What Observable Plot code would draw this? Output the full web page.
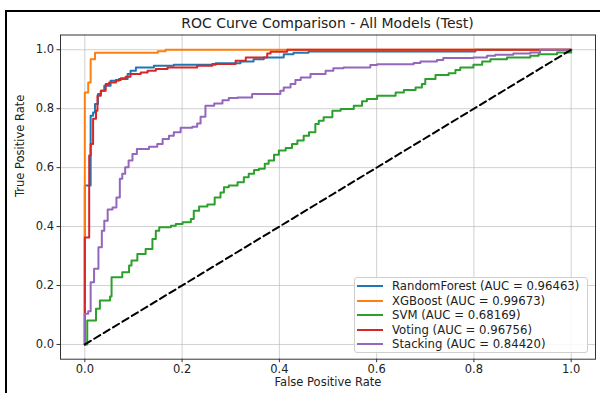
<!DOCTYPE html>
<html>
<head>
<meta charset="utf-8">
<script src="https://cdn.jsdelivr.net/npm/d3@7"></script>
<script src="https://cdn.jsdelivr.net/npm/@observablehq/plot@0.6"></script>
<style>
  html, body { margin: 0; padding: 0; background: #fff; }
  #wrap { position: relative; width: 600px; height: 393px; overflow: hidden; background: #fff; font-family: "DejaVu Sans", sans-serif; }
  #border { position: absolute; left: 5px; top: 10px; width: 600px; height: 400px; border-top: 2px solid #000; border-left: 2px solid #000; }
  #chart { position: absolute; left: 0; top: 0; }
  #title { position: absolute; left: 60px; width: 535px; top: 15px; text-align: center; font-size: 14px; line-height: 16px; color: #222; }
  #legend { position: absolute; left: 354px; top: 277px; width: 234px; height: 76px; box-sizing: border-box; background: rgba(255,255,255,0.85); border: 1px solid #cfcfcf; border-radius: 3px; }
  .row { position: absolute; left: 0; height: 0; }
  .sw { position: absolute; left: 2px; width: 26px; height: 2px; top: -1px; }
  .lt { position: absolute; left: 37px; top: -8px; font-size: 11.7px; line-height: 16px; white-space: nowrap; color: #222; }
</style>
</head>
<body>
<div id="wrap">
  <div id="chart"></div>
  <div id="border"></div>
  <div id="title"></div>
  <div id="legend"></div>
</div>
<script>
const titleText = "ROC Curve Comparison - All Models (Test)";
const xLabel = "False Positive Rate";
const yLabel = "True Positive Rate";
const ticks = [0, 0.2, 0.4, 0.6, 0.8, 1.0];

const models = ["RandomForest", "XGBoost", "SVM", "Voting", "Stacking"];
const aucs = ["0.96463", "0.99673", "0.68169", "0.96756", "0.84420"];
const colors = ["#1f77b4", "#ff7f0e", "#2ca02c", "#d62728", "#9467bd"];

const rfFpr = [0, 0, 0.012, 0.017, 0.021, 0.027, 0.033, 0.040, 0.053, 0.070, 0.088, 0.094, 0.105, 0.142, 0.183, 0.269, 0.320, 0.347, 0.368, 0.409, 0.429, 0.460, 0.803, 1];
const rfTpr = [0, 0.539, 0.776, 0.787, 0.816, 0.850, 0.861, 0.878, 0.895, 0.901, 0.918, 0.929, 0.940, 0.946, 0.949, 0.954, 0.960, 0.968, 0.974, 0.985, 0.990, 0.994, 1.0, 1];

const xgbFpr = [0, 0, 0.007, 0.012, 0.021, 0.150, 0.166, 1];
const xgbTpr = [0, 0.855, 0.889, 0.968, 0.990, 0.995, 1.0, 1];

const svmFpr = [0, 0.005, 0.023, 0.031, 0.052, 0.055, 0.077, 0.091, 0.096, 0.108, 0.125, 0.139, 0.146, 0.153, 0.177, 0.187, 0.201, 0.218, 0.224, 0.235, 0.252, 0.267, 0.279, 0.286, 0.296, 0.314, 0.327, 0.337, 0.348, 0.358, 0.370, 0.378, 0.389, 0.399, 0.413, 0.426, 0.437, 0.450, 0.461, 0.474, 0.481, 0.491, 0.509, 0.526, 0.553, 0.570, 0.580, 0.601, 0.639, 0.656, 0.680, 0.693, 0.700, 0.721, 0.748, 0.762, 0.772, 0.799, 0.817, 0.834, 0.868, 0.916, 0.933, 0.971, 1];
const svmTpr = [0, 0.081, 0.121, 0.149, 0.163, 0.228, 0.245, 0.268, 0.285, 0.307, 0.324, 0.358, 0.386, 0.398, 0.403, 0.409, 0.415, 0.426, 0.454, 0.468, 0.475, 0.499, 0.516, 0.533, 0.539, 0.550, 0.567, 0.579, 0.592, 0.596, 0.613, 0.624, 0.644, 0.658, 0.667, 0.680, 0.692, 0.708, 0.720, 0.748, 0.759, 0.771, 0.793, 0.799, 0.810, 0.825, 0.833, 0.844, 0.855, 0.863, 0.872, 0.884, 0.901, 0.914, 0.920, 0.931, 0.940, 0.949, 0.960, 0.968, 0.974, 0.980, 0.985, 0.991, 1];

const votFpr = [0, 0, 0.009, 0.012, 0.017, 0.023, 0.026, 0.033, 0.043, 0.050, 0.064, 0.074, 0.084, 0.094, 0.115, 0.129, 0.146, 0.170, 0.231, 0.262, 0.310, 0.331, 0.375, 0.382, 0.416, 1];
const votTpr = [0, 0.363, 0.641, 0.680, 0.766, 0.793, 0.844, 0.861, 0.884, 0.889, 0.897, 0.903, 0.908, 0.918, 0.923, 0.929, 0.935, 0.940, 0.946, 0.952, 0.963, 0.974, 0.987, 0.993, 1.0, 1];

const stkFpr = [0, 0, 0.007, 0.012, 0.019, 0.028, 0.035, 0.040, 0.047, 0.057, 0.065, 0.072, 0.077, 0.083, 0.090, 0.098, 0.107, 0.132, 0.149, 0.160, 0.173, 0.183, 0.197, 0.221, 0.231, 0.238, 0.248, 0.266, 0.283, 0.296, 0.314, 0.344, 0.402, 0.409, 0.423, 0.433, 0.444, 0.464, 0.495, 0.511, 0.532, 0.587, 0.601, 0.676, 0.690, 0.724, 0.737, 0.799, 0.827, 0.844, 0.881, 0.916, 0.936, 1];
const stkTpr = [0, 0.104, 0.113, 0.211, 0.257, 0.330, 0.386, 0.420, 0.458, 0.465, 0.499, 0.562, 0.579, 0.601, 0.624, 0.646, 0.663, 0.671, 0.680, 0.697, 0.708, 0.720, 0.735, 0.739, 0.750, 0.773, 0.810, 0.818, 0.829, 0.836, 0.838, 0.850, 0.861, 0.872, 0.884, 0.897, 0.906, 0.918, 0.929, 0.937, 0.940, 0.948, 0.951, 0.955, 0.960, 0.965, 0.972, 0.974, 0.980, 0.983, 0.987, 0.991, 1.0, 1];

const diagonal = [0, 1];

const curves = [[rfFpr, rfTpr], [xgbFpr, xgbTpr], [svmFpr, svmTpr], [votFpr, votTpr], [stkFpr, stkTpr]];
const series = curves.map(([fx, ty], i) => fx.map((f, j) => ({model: models[i], fpr: f, tpr: ty[j]})));

const fmt = d3.format(".1f");
const gridStyle = {stroke: "#b0b0b0", strokeOpacity: 0.65, strokeWidth: 0.9};

const chart = Plot.plot({
  width: 600,
  height: 393,
  marginLeft: 60,
  marginRight: 5,
  marginTop: 34.5,
  marginBottom: 34.3,
  style: {background: "transparent", fontFamily: "'DejaVu Sans', sans-serif", fontSize: "11.5px", color: "#222", overflow: "visible"},
  x: {domain: [-0.05, 1.05]},
  y: {domain: [-0.05, 1.05]},
  marks: [
    Plot.gridX(ticks, gridStyle),
    Plot.gridY(ticks, gridStyle),
    ...series.map((s, i) => Plot.line(s, {x: "fpr", y: "tpr", stroke: colors[i], strokeWidth: 2, curve: "step-after"})),
    Plot.line(diagonal, {x: d => d, y: d => d, stroke: "#000", strokeWidth: 2, strokeDasharray: "7,4"}),
    Plot.frame({stroke: "#333", strokeWidth: 1}),
    Plot.axisX(ticks, {tickFormat: fmt, tickSize: 3.5, tickPadding: 2, label: null, stroke: "#333"}),
    Plot.axisY(ticks, {tickFormat: fmt, tickSize: 3.5, tickPadding: 3, label: null, stroke: "#333"}),
    Plot.text([xLabel], {text: d => d, frameAnchor: "bottom", lineAnchor: "middle", dy: 23.5, fill: "#222"}),
    Plot.text([yLabel], {text: d => d, frameAnchor: "left", lineAnchor: "middle", dx: -40, rotate: -90, fill: "#222"})
  ]
});
document.getElementById("chart").appendChild(chart);
document.getElementById("title").textContent = titleText;

const legend = document.getElementById("legend");
models.forEach((m, i) => {
  const row = document.createElement("div");
  row.className = "row";
  row.style.top = (8.3 + i * 14.5) + "px";
  const sw = document.createElement("div");
  sw.className = "sw";
  sw.style.background = colors[i];
  const lt = document.createElement("div");
  lt.className = "lt";
  lt.textContent = `${m} (AUC = ${aucs[i]})`;
  row.appendChild(sw);
  row.appendChild(lt);
  legend.appendChild(row);
});
</script>
</body>
</html>
